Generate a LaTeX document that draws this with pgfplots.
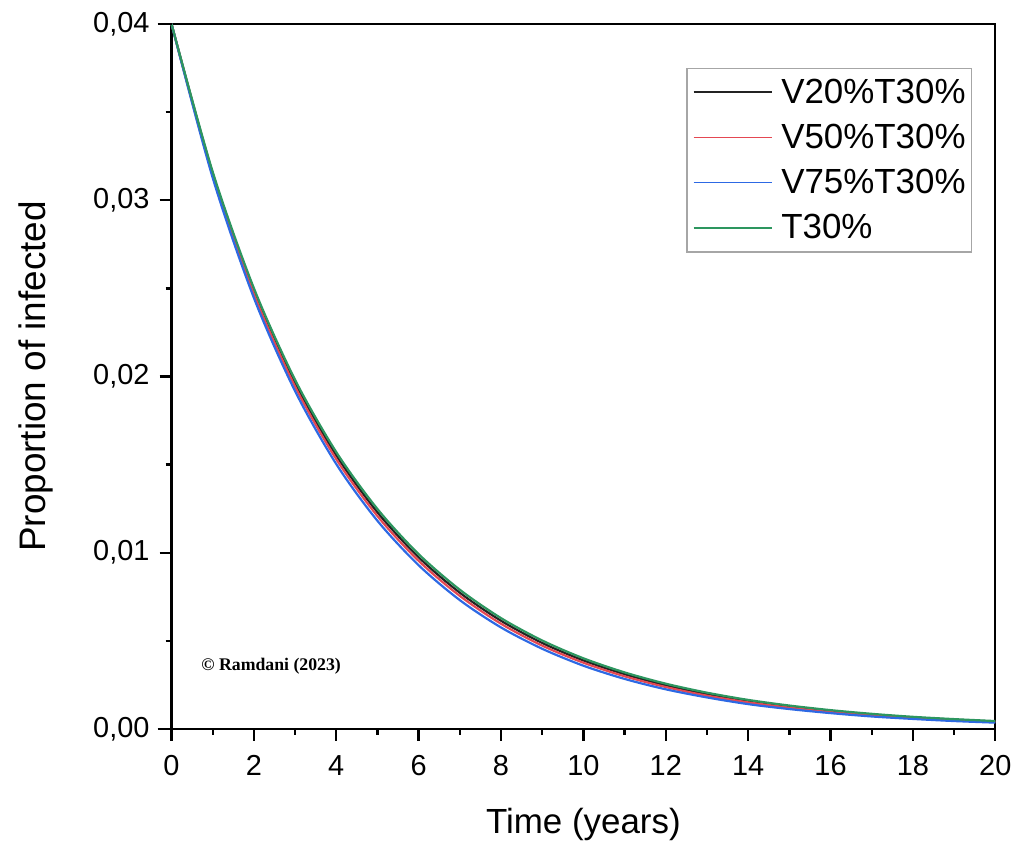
\documentclass[border=0pt]{standalone}
\usepackage{pgfplots}
\pgfplotsset{compat=1.18}
\usepackage{fontspec}
\setmainfont{Liberation Sans}
\newfontfamily\timesfont{Liberation Serif}
\definecolor{cblack}{RGB}{35,35,35}
\definecolor{cred}{RGB}{228,72,82}
\definecolor{cblue}{RGB}{45,105,228}
\definecolor{cgreen}{RGB}{45,150,95}
\begin{document}
\begin{tikzpicture}
\begin{axis}[
  scale only axis, width=413pt, height=353.5pt,
  xmin=0, xmax=20, ymin=0, ymax=0.04,
  xtick={0,2,...,20}, minor x tick num=1,
  ytick={0,0.01,0.02,0.03,0.04}, minor y tick num=1,
  tick align=outside, xtick pos=left, ytick pos=left,
  major tick length=6pt, minor tick length=3pt,
  tick style={black, line width=1.2pt},
  axis line style={line width=1.2pt},
  scaled y ticks=false,
  /pgf/number format/assume math mode=true,
  ticklabel style={font=\fontsize{14.5}{16}\selectfont},
  xticklabel style={yshift=-3.5pt, text height=10.5pt, text depth=0pt},
  yticklabel style={xshift=-1.5pt, /pgf/number format/.cd, fixed, fixed zerofill, precision=2, use comma},
  xlabel={Time (years)}, ylabel={Proportion of infected},
  xlabel style={font=\fontsize{17.5}{20}\selectfont, at={(rel axis cs:0.5,-0.1358)}, anchor=center},
  ylabel style={font=\fontsize{18.5}{20}\selectfont, at={(rel axis cs:-0.1646,0.5)}, anchor=center},
  clip=false,
  legend style={at={(0.972,0.938)}, anchor=north east, draw=gray!70, line width=0.6pt,
    font=\fontsize{17.5}{20}\selectfont, inner xsep=3pt, inner ysep=4.5pt,
    nodes={inner sep=0pt, text height=13pt, text depth=2pt},
    row sep=7.7pt, column sep=4.5pt},
  legend cell align=left,
  legend image code/.code={\draw[#1, line width=0.8pt] (0pt,0pt) -- (39pt,0pt);},
]
\addplot[color=cblack, line width=1.1pt, smooth] coordinates {
(0,0.04000) (1,0.03152) (2,0.02486) (3,0.01963) (4,0.01552) (5,0.01229) (6,0.00974)
(7,0.00773) (8,0.00614) (9,0.00488) (10,0.00389) (11,0.00311) (12,0.00248) (13,0.00198)
(14,0.00158) (15,0.00127) (16,0.00102) (17,0.00082) (18,0.00065) (19,0.00053) (20,0.00042)};
\addlegendentry{V20\%T30\%}
\addplot[color=cred, line width=1.1pt, smooth] coordinates {
(0,0.04000) (1,0.03140) (2,0.02469) (3,0.01943) (4,0.01531) (5,0.01208) (6,0.00954)
(7,0.00755) (8,0.00597) (9,0.00473) (10,0.00376) (11,0.00299) (12,0.00238) (13,0.00189)
(14,0.00151) (15,0.00121) (16,0.00096) (17,0.00077) (18,0.00061) (19,0.00049) (20,0.00040)};
\addlegendentry{V50\%T30\%}
\addplot[color=cblue, line width=1.1pt, smooth] coordinates {
(0,0.04000) (1,0.03127) (2,0.02446) (3,0.01917) (4,0.01503) (5,0.01181) (6,0.00929)
(7,0.00731) (8,0.00576) (9,0.00455) (10,0.00359) (11,0.00284) (12,0.00225) (13,0.00179)
(14,0.00141) (15,0.00113) (16,0.00090) (17,0.00071) (18,0.00057) (19,0.00045) (20,0.00036)};
\addlegendentry{V75\%T30\%}
\addplot[color=cgreen, line width=1.1pt, smooth] coordinates {
(0,0.04000) (1,0.03161) (2,0.02501) (3,0.01981) (4,0.01571) (5,0.01248) (6,0.00992)
(7,0.00790) (8,0.00629) (9,0.00502) (10,0.00401) (11,0.00321) (12,0.00257) (13,0.00206)
(14,0.00165) (15,0.00133) (16,0.00107) (17,0.00086) (18,0.00069) (19,0.00056) (20,0.00045)};
\addlegendentry{T30\%}
\node[font=\timesfont\bfseries\fontsize{8.9}{10}\selectfont, anchor=center] at (axis cs:2.42,0.00356) {© Ramdani (2023)};
\draw[line width=1.2pt] (rel axis cs:-0.017,1) -- (rel axis cs:0,1);
\draw[line width=1.2pt] (rel axis cs:-0.017,0) -- (rel axis cs:0,0);
\path (rel axis cs:-0.2082,-0.1627) rectangle (rel axis cs:1.0242,1.0339);
\end{axis}
\end{tikzpicture}
\end{document}
